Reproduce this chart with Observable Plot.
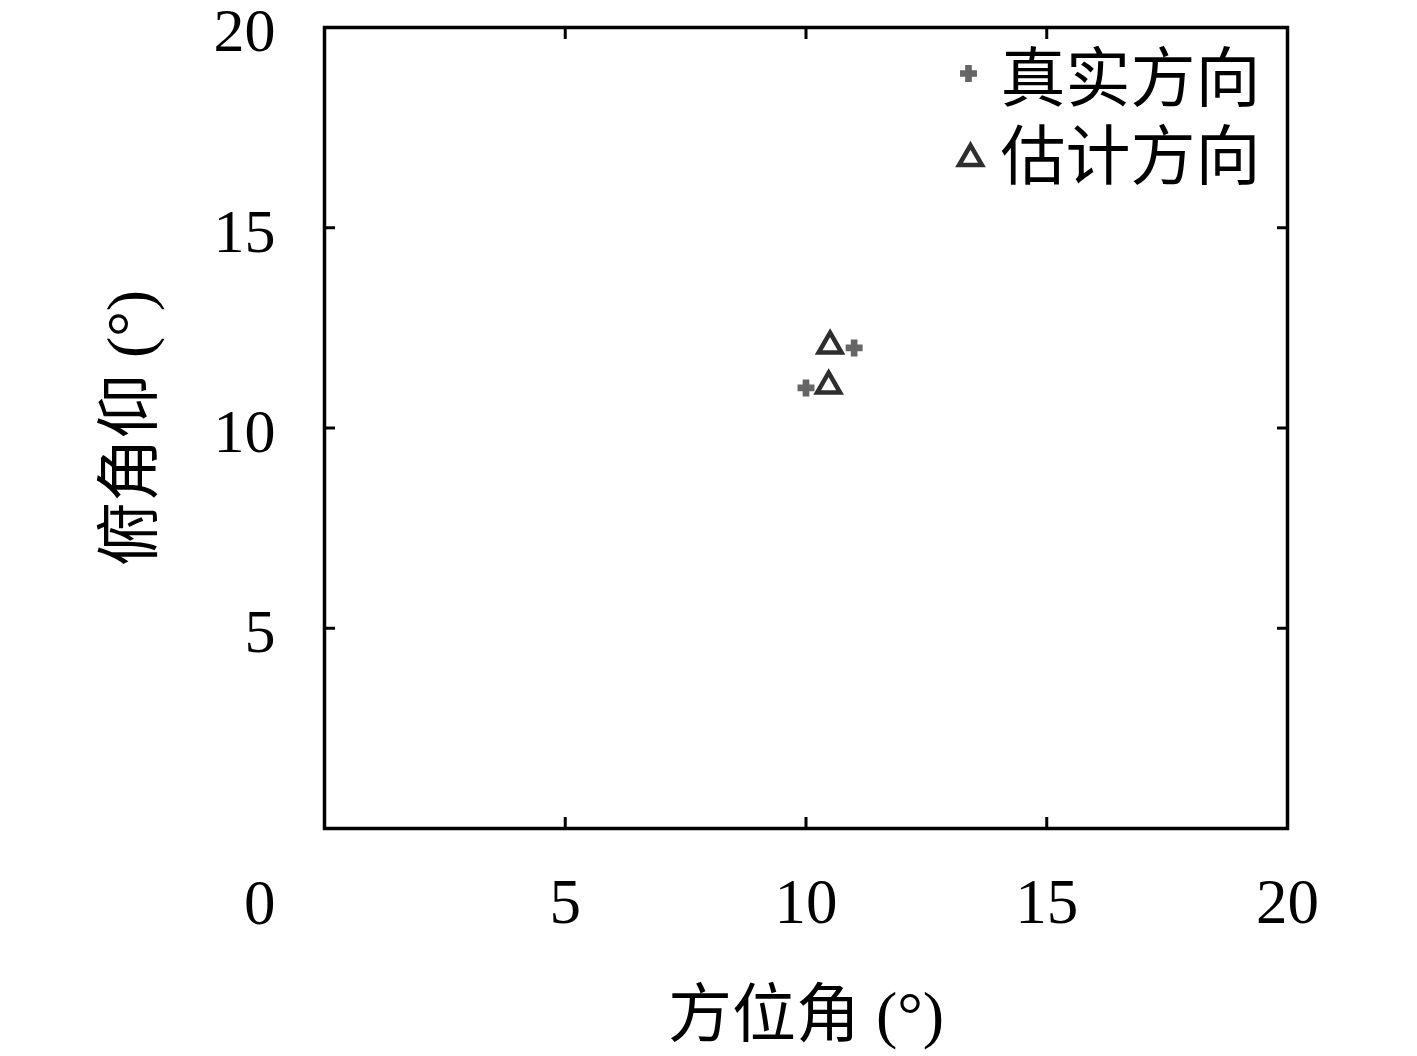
<!DOCTYPE html>
<html>
<head>
<meta charset="utf-8">
<script src="https://cdn.jsdelivr.net/npm/d3@7"></script>
<script src="https://cdn.jsdelivr.net/npm/@observablehq/plot@0.6"></script>
<style>
  html, body { margin: 0; padding: 0; background: #fff; }
</style>
</head>
<body>
<div id="chart"></div>
<script>
// Data
const trueAz = [10, 11];
const trueEl = [11, 12];
const estAz = [10.47, 10.5];
const estEl = [11.05, 12.05];
const xTicks = [5, 10, 15, 20];
const yTicks = [5, 10, 15, 20];
const innerTicks = [5, 10, 15];
const legendLabels = ["真实方向", "估计方向"];
const xLabel = "方位角 (°)";
const yLabel = "俯角仰 (°)";

const trueData = trueAz.map((a, i) => ({az: a, el: trueEl[i]}));
const estData = estAz.map((a, i) => ({az: a, el: estEl[i]}));

const font = '"Liberation Serif", "Noto Sans CJK SC", serif';
const grayPlus = "#666666";
const darkTri = "#2e2e2e";

const chart = Plot.plot({
  width: 1417,
  height: 1056,
  marginLeft: 324,
  marginRight: 130,
  marginTop: 27,
  marginBottom: 228,
  x: {domain: [0, 20]},
  y: {domain: [0, 20]},
  style: {fontFamily: font, fontSize: "64px", background: "#fff", color: "#000", overflow: "visible"},
  marks: [
    // inward ticks on all four sides
    Plot.axisX(innerTicks, {anchor: "bottom", tickSize: -11, strokeWidth: 3, tickFormat: () => "", label: null}),
    Plot.axisX(innerTicks, {anchor: "top", tickSize: -11, strokeWidth: 3, tickFormat: () => "", label: null}),
    Plot.axisY(innerTicks, {anchor: "left", tickSize: -11, strokeWidth: 3, tickFormat: () => "", label: null}),
    Plot.axisY(innerTicks, {anchor: "right", tickSize: -11, strokeWidth: 3, tickFormat: () => "", label: null}),
    // tick labels
    Plot.axisX(xTicks, {anchor: "bottom", tickSize: 0, tickPadding: 50, label: null, fontSize: 63, fill: "#000"}),
    Plot.axisY(yTicks, {anchor: "left", tickSize: 0, tickPadding: 49, label: null, fontSize: 62, fill: "#000", dy: 4}),
    // shared origin label
    Plot.text(["0"], {frameAnchor: "bottom-left", text: d => d, textAnchor: "end", lineAnchor: "middle", dx: -49, dy: 75, fontSize: 63, fill: "#000"}),
    // axis titles
    Plot.text([xLabel], {frameAnchor: "bottom", text: d => d, textAnchor: "middle", lineAnchor: "middle", dy: 187, fontSize: 64, fill: "#000"}),
    Plot.text([yLabel], {frameAnchor: "left", text: d => d, textAnchor: "middle", rotate: -90, lineAnchor: "middle", dx: -194, fontSize: 64, fill: "#000"}),
    Plot.frame({stroke: "#000", strokeWidth: 3.5}),
    // data
    Plot.dot(trueData, {x: "az", y: "el", symbol: "cross", r: 6.5, fill: grayPlus, stroke: grayPlus, strokeWidth: 1.5}),
    Plot.dot(estData, {x: "az", y: "el", symbol: "triangle", r: 8.5, fill: "none", stroke: darkTri, strokeWidth: 4.5}),
    // legend
    Plot.dot([legendLabels[0]], {frameAnchor: "top-right", symbol: "cross", r: 6.5, fill: grayPlus, stroke: grayPlus, strokeWidth: 1.5, dx: -319, dy: 46}),
    Plot.dot([legendLabels[1]], {frameAnchor: "top-right", symbol: "triangle", r: 8.5, fill: "none", stroke: darkTri, strokeWidth: 4.5, dx: -317, dy: 131}),
    Plot.text([legendLabels[0]], {frameAnchor: "top-right", text: d => d, textAnchor: "start", lineAnchor: "middle", dx: -287, dy: 53, fontSize: 65, fill: "#000"}),
    Plot.text([legendLabels[1]], {frameAnchor: "top-right", text: d => d, textAnchor: "start", lineAnchor: "middle", dx: -287, dy: 131, fontSize: 65, fill: "#000"})
  ]
});
document.getElementById("chart").appendChild(chart);
</script>
</body>
</html>
